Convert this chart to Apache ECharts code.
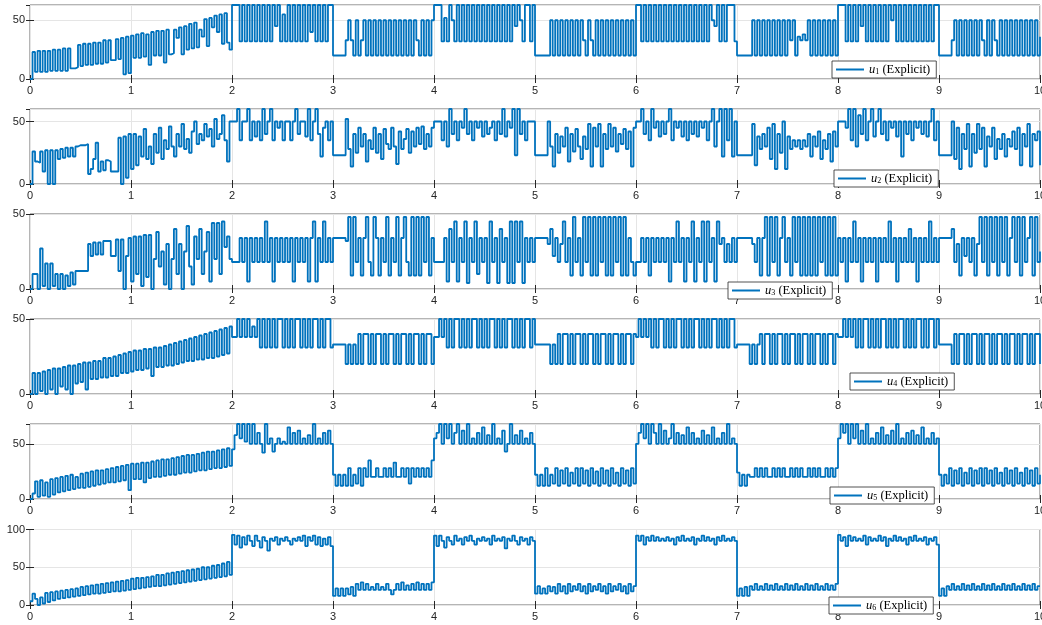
<!DOCTYPE html>
<html><head><meta charset="utf-8">
<script src="https://cdn.jsdelivr.net/npm/echarts@6/dist/echarts.min.js"></script>
<style>html,body{margin:0;padding:0;background:#fff}#c{width:1042px;height:625px}</style>
</head><body><div id="c"></div>
<script>
// ---- data: each row = one second of samples (evenly spaced within that second) ----
const xTickLabels = ['0','1','2','3','4','5','6','7','8','9','10'];
const seriesNames = ['u1 (Explicit)','u2 (Explicit)','u3 (Explicit)','u4 (Explicit)','u5 (Explicit)','u6 (Explicit)'];
const subIdx = ['1','2','3','4','5','6'];
const yMax = [63, 60, 50, 50, 68, 100];
const yTick = 50;

const u1 = [
[0,23,6,24,6,24,6,24,7,25,7,25,7,26,7,26,9,9,10,29,11,30,12,30,12,31,13,31,13,33,14,33,16,16,34,17,35,4,36,5],
[37,18,38,18,39,19,38,12,40,20,41,20,41,14,42,21,22,42,35,44,21,45,25,47,26,48,27,42,36,51,28,52,44,54,40,55,30,56,31,25],
[63,63,63,32,63,32,63,32,63,32,63,32,63,32,63,32,63,45,63,32,55,32,63,32,63,32,63,32,63,32,63,40,63,32,63,32,63,32,63,63],
[20,20,20,20,20,33,50,33,20,50,20,33,50,20,50,20,50,20,50,20,50,20,50,20,50,20,50,20,50,20,50,20,50,33,20,50,20,50,20,50],
[63,63,63,32,52,32,63,50,32,63,32,63,32,63,32,63,32,63,32,63,32,63,32,63,32,63,32,63,32,63,32,63,45,63,50,32,63,63,32,63],
[20,20,20,20,20,20,50,20,50,20,50,20,50,20,50,20,50,20,50,33,20,50,33,20,50,20,50,20,50,20,50,20,50,20,50,20,50,20,50,20],
[63,63,32,63,32,63,32,63,32,63,32,63,32,63,32,63,32,63,32,63,32,63,32,63,32,63,32,63,32,63,50,45,63,32,63,32,63,63,63,32],
[20,20,20,20,20,20,50,20,50,20,50,20,50,20,50,20,50,20,50,20,50,33,50,20,36,33,38,33,50,20,50,20,50,20,50,20,50,20,50,20],
[63,63,63,32,63,32,63,32,63,45,63,32,63,32,63,32,63,32,63,32,63,50,63,32,63,32,63,32,63,32,63,32,63,32,63,32,63,32,63,63],
[20,20,20,20,20,33,50,20,50,20,50,20,50,20,50,20,50,33,20,50,20,50,33,20,50,20,50,20,50,20,50,20,50,20,50,20,50,20,50,20]
];
const u1End = 36;

const u2 = [
[0,26,18,17,26,10,27,0,27,0,27,20,28,21,29,22,29,22,30,31,31,31,32,8,12,20,33,10,18,11,19,18,10,10,10,37,0,38,5,40],
[12,40,15,38,22,44,20,30,16,40,25,45,20,35,28,46,30,22,40,30,48,28,36,25,42,50,32,40,35,48,38,44,30,52,36,40,55,35,18,50],
[50,50,60,35,50,50,60,35,50,38,50,35,60,40,50,60,35,50,45,50,35,50,50,35,50,60,40,50,50,38,60,35,50,60,40,22,45,50,35,50],
[23,23,23,23,23,52,28,14,40,25,45,30,40,18,35,28,45,25,40,20,44,32,28,45,30,16,42,28,36,44,25,42,30,45,32,46,28,40,30,45],
[50,50,50,35,50,30,60,40,50,35,50,45,60,40,50,35,50,45,50,38,50,40,45,50,35,50,40,60,38,50,45,60,23,60,40,50,35,50,50,50],
[23,23,23,23,23,50,30,14,40,25,38,30,45,18,40,26,44,30,20,38,28,48,14,45,30,48,14,40,28,48,30,45,26,40,32,44,28,42,14,45],
[50,50,60,40,50,35,60,45,50,38,50,40,50,60,35,50,45,50,38,50,35,50,40,50,38,50,45,50,35,50,60,30,50,60,22,60,35,60,22,50],
[23,23,23,23,23,23,48,15,38,28,40,30,45,20,48,12,40,25,50,12,38,28,35,30,35,28,35,30,40,22,38,30,42,20,35,28,40,18,42,30],
[50,50,50,45,60,35,60,30,55,40,60,35,50,60,38,50,60,40,50,35,50,45,50,38,50,22,50,40,50,35,50,45,50,40,50,38,50,60,35,50],
[23,23,23,23,23,50,20,45,12,40,28,48,14,40,25,48,28,45,14,38,30,45,20,36,28,40,22,36,30,42,28,45,15,40,30,48,14,40,35,42]
];
const u2End = 15;

const u3 = [
[0,10,10,0,27,2,17,0,17,2,10,0,10,0,9,2,11,3,12,12,12,12,12,30,22,31,23,31,23,32,32,32,22,22,33,12,33,0,22,34],
[5,35,10,35,2,36,8,36,0,20,38,15,25,3,30,0,20,40,10,30,0,25,42,15,3,35,20,40,10,25,38,5,44,20,44,10,45,28,35,20],
[18,18,18,34,18,34,5,34,18,34,18,34,18,45,18,34,5,34,18,34,18,34,18,34,5,34,18,34,18,34,5,34,45,5,34,18,45,18,34,18],
[34,34,34,34,34,32,48,9,48,18,34,9,34,48,18,9,48,34,9,34,18,48,9,34,18,48,9,34,48,18,9,48,9,48,9,48,18,48,9,34],
[18,18,18,18,34,5,40,18,45,5,34,18,45,4,34,18,45,10,34,18,34,4,45,18,34,4,40,18,34,4,45,4,45,18,45,4,34,18,34,18],
[34,34,34,34,34,30,40,22,34,18,30,45,18,34,9,48,18,34,9,48,18,48,9,48,9,48,18,48,9,48,9,48,18,48,9,48,9,34,18,9],
[18,18,34,18,34,9,34,18,34,18,34,18,34,5,34,18,45,18,34,5,34,18,45,5,34,18,45,5,45,18,34,5,45,30,34,18,30,18,34,18],
[34,34,34,34,34,34,30,18,34,9,34,48,9,48,18,48,9,34,48,18,34,9,48,18,48,9,48,9,48,9,48,9,48,18,48,9,48,9,48,9],
[34,18,34,5,34,18,45,18,34,5,34,18,34,18,34,5,34,18,34,18,45,18,34,5,34,18,34,18,40,18,34,5,34,18,34,18,45,18,34,18],
[34,34,34,34,34,40,18,30,9,34,22,34,18,34,9,30,48,18,48,9,48,18,48,9,48,18,48,9,34,48,18,48,9,48,18,34,48,9,48,18]
];
const u3End = 25;

const u4 = [
[0,14,0,14,2,15,0,16,3,17,0,17,5,18,3,19,0,19,7,20,8,21,3,21,10,22,10,22,11,24,11,24,12,25,12,26,14,27,14,28],
[15,29,16,29,16,30,17,30,12,31,18,31,18,32,19,33,19,34,20,35,21,36,22,37,22,38,23,39,23,40,24,41,24,42,25,43,26,44,27,45],
[38,38,50,38,50,38,50,38,45,38,50,31,50,31,50,31,50,31,50,50,31,50,31,50,31,50,50,31,50,31,50,31,50,50,31,50,31,50,50,31],
[33,33,33,33,33,20,33,20,33,20,40,20,40,40,20,40,20,40,40,20,40,20,40,40,20,40,20,40,40,20,40,20,40,40,20,40,20,40,40,20],
[38,38,50,38,50,31,50,31,50,50,31,50,31,50,31,50,50,31,50,31,50,31,50,50,31,50,31,50,31,50,50,31,50,31,50,31,50,50,31,50],
[33,33,33,33,33,33,20,33,20,40,20,40,40,20,40,20,40,40,20,40,20,40,40,20,40,20,40,40,20,40,20,40,40,20,40,20,40,40,20,40],
[38,50,38,50,38,50,31,50,31,50,50,31,50,31,50,31,50,50,31,50,31,50,31,50,50,31,50,31,50,31,50,50,31,50,31,50,31,50,50,31],
[33,33,33,33,33,20,33,20,33,40,20,40,40,20,40,20,40,40,20,40,20,40,40,20,40,20,40,40,20,40,20,40,40,20,40,20,40,40,20,40],
[38,38,50,38,50,38,50,31,50,31,50,50,31,50,31,50,31,50,50,31,50,31,50,31,50,50,31,50,31,50,31,50,50,31,50,31,50,50,31,50],
[33,33,33,33,33,20,40,20,40,40,20,40,20,40,40,20,40,20,40,40,20,40,20,40,40,20,40,20,40,40,20,40,20,40,40,20,40,20,40,40]
];
const u4End = 20;

const u5 = [
[0,5,16,2,17,3,15,2,18,4,19,6,20,7,21,8,22,9,20,10,23,10,24,11,25,12,26,13,26,14,27,15,28,15,29,16,30,17,31,8],
[32,18,32,18,33,15,33,19,34,20,35,20,36,21,36,22,37,22,38,23,39,24,40,24,40,25,41,26,42,26,43,27,43,28,44,28,45,29,46,30],
[45,58,68,55,68,52,68,50,68,50,60,50,42,68,50,55,43,50,55,50,52,50,65,50,60,50,62,50,55,50,58,50,68,50,55,50,60,50,62,50],
[22,12,22,12,22,12,28,12,22,14,28,12,28,20,35,20,20,28,20,20,28,20,28,20,33,20,20,28,20,28,14,28,20,28,20,28,20,28,20,35],
[55,60,68,50,68,55,68,50,60,68,50,62,50,68,50,55,50,60,50,65,50,58,50,68,50,55,50,62,43,50,68,50,58,50,62,50,55,50,60,50],
[22,12,22,12,28,12,22,14,28,12,26,14,28,12,24,14,28,12,28,14,26,12,28,14,25,12,28,14,26,12,28,14,24,12,28,14,26,12,28,14],
[50,60,68,55,68,50,68,60,50,68,50,62,50,55,68,50,60,50,58,50,65,50,60,50,55,50,62,50,58,50,65,50,55,50,60,50,68,50,55,50],
[24,12,22,12,22,20,20,28,20,28,20,28,20,20,28,20,28,20,28,20,20,28,20,28,20,28,20,20,28,20,28,20,28,20,20,28,20,28,20,28],
[55,68,60,68,50,68,55,68,50,62,50,68,50,55,50,60,50,65,50,58,50,62,50,68,50,55,50,60,50,62,50,58,50,65,50,55,50,60,50,55],
[22,12,22,14,28,12,26,14,28,12,24,14,28,12,26,14,28,12,28,14,26,12,28,14,24,12,28,14,26,12,28,14,24,12,28,14,26,12,28,14]
];
const u5End = 22;

const u6 = [
[5,15,8,0,10,2,16,4,17,6,18,8,19,9,20,10,21,11,22,12,24,13,25,14,26,15,27,15,28,16,29,17,30,18,31,18,32,19,33,20],
[35,21,36,22,36,23,37,24,38,25,40,25,40,26,42,27,43,28,44,29,45,30,46,31,47,32,48,33,50,34,50,35,52,36,53,37,55,38,57,40],
[93,80,92,76,90,80,92,85,78,92,85,76,90,85,72,88,85,90,80,88,85,90,85,80,88,85,90,85,92,78,90,85,92,80,90,78,88,80,90,78],
[12,22,12,22,12,22,14,24,12,28,20,30,20,28,20,24,20,28,20,24,20,28,20,14,20,28,20,30,20,26,20,28,20,30,20,28,20,28,20,30],
[92,78,92,85,76,90,85,80,92,85,88,80,90,85,92,85,80,88,85,90,85,88,80,92,85,88,85,90,75,88,85,92,85,80,90,85,88,80,90,85],
[15,25,15,22,15,25,18,24,15,28,18,25,15,28,18,25,20,28,18,25,15,28,18,25,20,28,18,25,15,28,18,25,20,28,18,25,15,28,18,25],
[92,85,92,80,90,85,92,85,90,85,88,85,90,85,88,80,90,85,92,85,88,85,90,80,88,85,92,85,90,85,88,80,90,85,92,85,88,85,90,85],
[12,22,12,24,12,25,20,28,20,25,20,28,20,26,20,28,20,25,20,28,20,26,20,28,20,25,20,28,20,26,20,28,20,25,20,28,20,26,20,28],
[93,85,90,78,92,85,90,85,88,85,92,80,90,85,88,85,92,85,90,78,88,85,92,85,90,85,88,80,90,85,92,85,88,85,90,80,88,85,90,80],
[12,22,12,25,20,28,20,25,20,28,20,26,20,28,20,25,20,28,20,26,20,28,20,25,20,28,20,26,20,28,20,25,20,28,20,26,20,28,20,25]
];
const u6End = 25;

// ---- build ----
const allRows = [u1,u2,u3,u4,u5,u6];
const allEnds = [u1End,u2End,u3End,u4End,u5End,u6End];
function toPoints(rows, endVal){
  const pts = [];
  rows.forEach((row,k)=>{ row.forEach((v,j)=>pts.push([k + j/row.length, v])); });
  pts.push([rows.length, endVal]);
  return pts;
}

const gridTop = [5, 109, 214, 319, 424, 529.5];
const gridH = [74, 75, 75, 75, 75, 75.5];
const legendPos = [[832,61],[834,170],[728,282],[850,373],[830,487],[829,597]];
const axisColor = '#262626';
const labelFont = 'Liberation Sans';

const grid=[], xAxis=[], yAxis=[], series=[], legend=[];
for (let i=0;i<6;i++){
  grid.push({left:30, right:2, top:gridTop[i], height:gridH[i], show:true, containLabel:false,
    outerBoundsMode:'none',
    borderColor:'#6a6a6a', borderWidth:1, backgroundColor:'#fff'});
  xAxis.push({type:'value', gridIndex:i, min:0, max:10, interval:1, position:'bottom',
    axisLine:{show:false},
    axisTick:{show:true, inside:true, length:4, lineStyle:{color:axisColor}},
    axisLabel:{show:true, margin:6, color:axisColor, fontSize:11, fontFamily:labelFont,
      hideOverlap:false, formatter:(v)=>xTickLabels[Math.round(v)]},
    splitLine:{show:true, lineStyle:{color:'#e5e5e5', width:1}}});
  xAxis.push({type:'value', gridIndex:i, min:0, max:10, interval:1, position:'top',
    axisLine:{show:false},
    axisTick:{show:true, inside:true, length:4, lineStyle:{color:axisColor}},
    axisLabel:{show:false}, splitLine:{show:false}});
  const exact = yMax[i] % yTick === 0;
  yAxis.push({type:'value', gridIndex:i, min:0, max:yMax[i], interval:yTick, position:'left',
    axisLine:{show:false},
    axisTick:{show:true, inside:true, length:4, lineStyle:{color:axisColor}},
    axisLabel:{show:true, margin:5, color:axisColor, fontSize:11, fontFamily:labelFont, showMaxLabel:exact},
    splitLine:{show:true, lineStyle:{color:'#e5e5e5', width:1}}});
  yAxis.push({type:'value', gridIndex:i, min:0, max:yMax[i], interval:yTick, position:'right',
    axisLine:{show:false},
    axisTick:{show:true, inside:true, length:4, lineStyle:{color:axisColor}},
    axisLabel:{show:false}, splitLine:{show:false}});
  series.push({name:seriesNames[i], type:'line', xAxisIndex:2*i, yAxisIndex:2*i,
    step:'end', showSymbol:false, symbol:'none', clip:true,
    lineStyle:{color:'#0072BD', width:1.8}, itemStyle:{color:'#0072BD'},
    data: toPoints(allRows[i], allEnds[i])});
  const k = subIdx[i];
  legend.push({data:[seriesNames[i]], left:legendPos[i][0], top:legendPos[i][1],
    selectedMode:false, backgroundColor:'#fff', borderColor:'#262626', borderWidth:0.8,
    padding:[2,6,2,4], icon:'rect', itemWidth:28, itemHeight:2, itemGap:4,
    formatter:()=>'{i|u}{s|'+k+'} (Explicit)',
    textStyle:{fontFamily:'Liberation Serif', fontSize:12.5, color:'#000',
      rich:{i:{fontFamily:'Liberation Serif', fontStyle:'italic', fontSize:12.5, color:'#000'},
            s:{fontFamily:'Liberation Serif', fontSize:8, color:'#000', verticalAlign:'bottom', padding:[5,0,0,0]}}}});
}

const chart = echarts.init(document.getElementById('c'), null, {renderer:'canvas'});
chart.setOption({animation:false, backgroundColor:'#fff', grid, xAxis, yAxis, series, legend});
</script></body></html>
